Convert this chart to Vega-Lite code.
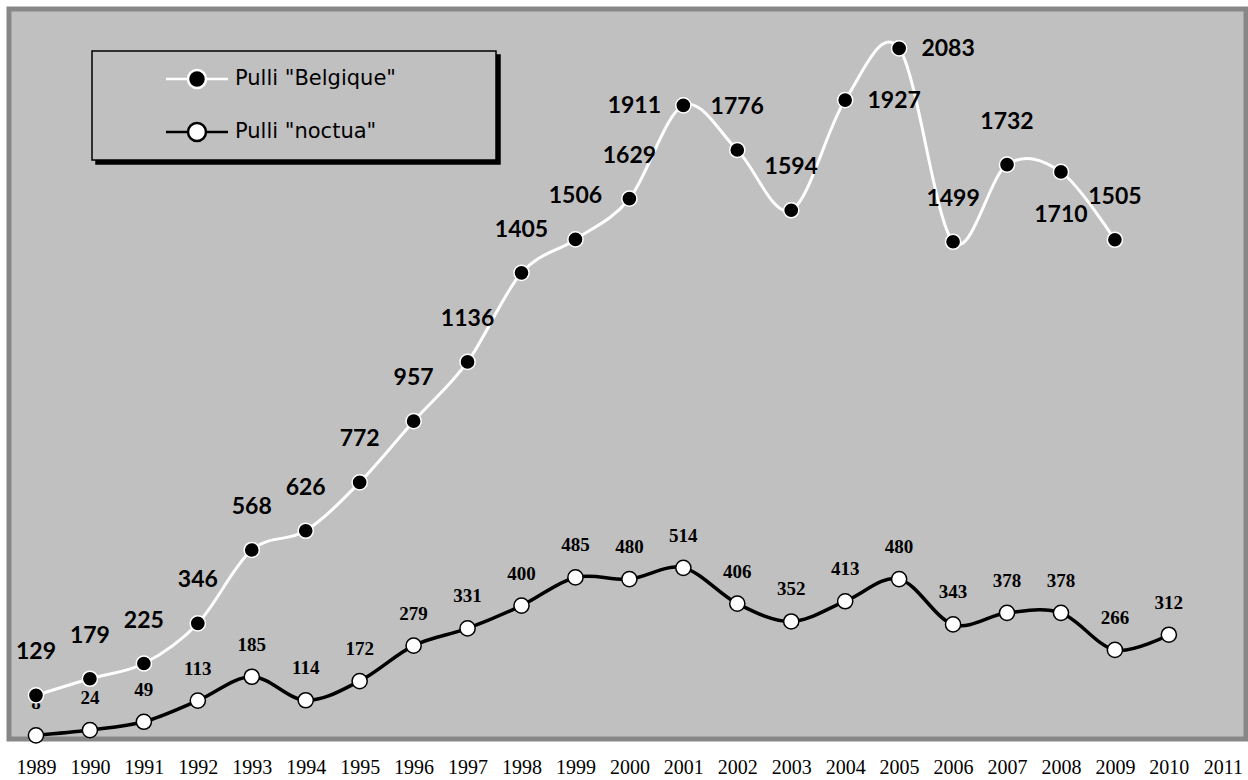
{
  "$schema": "https://vega.github.io/schema/vega-lite/v6.json",
  "width": 1237,
  "height": 730,
  "autosize": {"type": "none"},
  "padding": {"left": 9, "top": 9, "right": 2, "bottom": 41},
  "background": "white",
  "config": {
    "view": {"fill": "#C0C0C0", "stroke": "#878787", "strokeWidth": 5}
  },
  "data": {
    "values": [
      {"year": 1989, "series": "Pulli \"Belgique\"", "value": 129},
      {"year": 1990, "series": "Pulli \"Belgique\"", "value": 179},
      {"year": 1991, "series": "Pulli \"Belgique\"", "value": 225},
      {"year": 1992, "series": "Pulli \"Belgique\"", "value": 346},
      {"year": 1993, "series": "Pulli \"Belgique\"", "value": 568},
      {"year": 1994, "series": "Pulli \"Belgique\"", "value": 626},
      {"year": 1995, "series": "Pulli \"Belgique\"", "value": 772},
      {"year": 1996, "series": "Pulli \"Belgique\"", "value": 957},
      {"year": 1997, "series": "Pulli \"Belgique\"", "value": 1136},
      {"year": 1998, "series": "Pulli \"Belgique\"", "value": 1405},
      {"year": 1999, "series": "Pulli \"Belgique\"", "value": 1506},
      {"year": 2000, "series": "Pulli \"Belgique\"", "value": 1629},
      {"year": 2001, "series": "Pulli \"Belgique\"", "value": 1911},
      {"year": 2002, "series": "Pulli \"Belgique\"", "value": 1776},
      {"year": 2003, "series": "Pulli \"Belgique\"", "value": 1594},
      {"year": 2004, "series": "Pulli \"Belgique\"", "value": 1927},
      {"year": 2005, "series": "Pulli \"Belgique\"", "value": 2083},
      {"year": 2006, "series": "Pulli \"Belgique\"", "value": 1499},
      {"year": 2007, "series": "Pulli \"Belgique\"", "value": 1732},
      {"year": 2008, "series": "Pulli \"Belgique\"", "value": 1710},
      {"year": 2009, "series": "Pulli \"Belgique\"", "value": 1505},
      {"year": 1989, "series": "Pulli \"noctua\"", "value": 8},
      {"year": 1990, "series": "Pulli \"noctua\"", "value": 24},
      {"year": 1991, "series": "Pulli \"noctua\"", "value": 49},
      {"year": 1992, "series": "Pulli \"noctua\"", "value": 113},
      {"year": 1993, "series": "Pulli \"noctua\"", "value": 185},
      {"year": 1994, "series": "Pulli \"noctua\"", "value": 114},
      {"year": 1995, "series": "Pulli \"noctua\"", "value": 172},
      {"year": 1996, "series": "Pulli \"noctua\"", "value": 279},
      {"year": 1997, "series": "Pulli \"noctua\"", "value": 331},
      {"year": 1998, "series": "Pulli \"noctua\"", "value": 400},
      {"year": 1999, "series": "Pulli \"noctua\"", "value": 485},
      {"year": 2000, "series": "Pulli \"noctua\"", "value": 480},
      {"year": 2001, "series": "Pulli \"noctua\"", "value": 514},
      {"year": 2002, "series": "Pulli \"noctua\"", "value": 406},
      {"year": 2003, "series": "Pulli \"noctua\"", "value": 352},
      {"year": 2004, "series": "Pulli \"noctua\"", "value": 413},
      {"year": 2005, "series": "Pulli \"noctua\"", "value": 480},
      {"year": 2006, "series": "Pulli \"noctua\"", "value": 343},
      {"year": 2007, "series": "Pulli \"noctua\"", "value": 378},
      {"year": 2008, "series": "Pulli \"noctua\"", "value": 378},
      {"year": 2009, "series": "Pulli \"noctua\"", "value": 266},
      {"year": 2010, "series": "Pulli \"noctua\"", "value": 312}
    ]
  },
  "encoding": {
    "x": {
      "field": "year", "type": "quantitative",
      "scale": {"domain": [1988.5, 2011.43], "nice": false, "zero": false},
      "axis": {
        "title": null, "domain": false, "ticks": false, "tickSize": 0, "grid": false,
        "values": [1989,1990,1991,1992,1993,1994,1995,1996,1997,1998,1999,2000,2001,2002,2003,2004,2005,2006,2007,2008,2009,2010,2011],
        "format": "d", "labelFont": "Liberation Serif", "labelFontSize": 20, "labelColor": "black",
        "labelPadding": 18, "labelOverlap": false, "labelFlush": false
      }
    },
    "y": {
      "field": "value", "type": "quantitative",
      "scale": {"domain": [-3, 2202], "nice": false, "zero": false},
      "axis": null
    }
  },
  "layer": [
    {
      "transform": [{"filter": {"field": "series", "equal": "Pulli \"noctua\""}}],
      "mark": {"type": "line", "interpolate": "cardinal", "strokeWidth": 3.5},
      "encoding": {
        "stroke": {"field": "series", "type": "nominal",
          "scale": {"domain": ["Pulli \"Belgique\"", "Pulli \"noctua\""], "range": ["white", "black"]},
          "legend": {"title": " ", "titleOrient": "right", "titlePadding": 85, "titleFontSize": 1,
            "orient": "none", "legendX": 83, "legendY": 42, "zindex": 2,
            "padding": 15, "strokeColor": "black", "fillColor": "#C0C0C0",
            "symbolType": "M -3.1 0 L -0.9 0 M 0.9 0 L 3.1 0 M 0.9 0 A 0.9 0.9 0 1 1 -0.9 0 A 0.9 0.9 0 1 1 0.9 0 Z",
            "symbolSize": 400, "symbolStrokeWidth": 2.5, "symbolOffset": 78.5,
            "labelOffset": 26.5, "labelFont": "DejaVu Sans", "labelFontSize": 21, "labelColor": "black", "labelLimit": 0,
            "clipHeight": 26, "rowPadding": 27,
            "encode": {"legend": {"update": {"strokeWidth": {"value": 1.5}}}}}
        }
      }
    },
    {
      "transform": [{"filter": {"field": "series", "equal": "Pulli \"noctua\""}}],
      "mark": {"type": "point", "shape": "circle", "filled": true, "size": 230, "strokeWidth": 1.5},
      "encoding": {
        "fill": {"field": "series", "type": "nominal",
          "scale": {"domain": ["Pulli \"Belgique\"", "Pulli \"noctua\""], "range": ["black", "white"]},
          "legend": {"title": " ", "titleOrient": "right", "titlePadding": 85, "titleFontSize": 1,
            "orient": "none", "legendX": 83, "legendY": 42, "zindex": 2,
            "padding": 15, "strokeColor": "black", "fillColor": "#C0C0C0",
            "symbolType": "M -3.1 0 L -0.9 0 M 0.9 0 L 3.1 0 M 0.9 0 A 0.9 0.9 0 1 1 -0.9 0 A 0.9 0.9 0 1 1 0.9 0 Z",
            "symbolSize": 400, "symbolStrokeWidth": 2.5, "symbolOffset": 78.5,
            "labelOffset": 26.5, "labelFont": "DejaVu Sans", "labelFontSize": 21, "labelColor": "black", "labelLimit": 0,
            "clipHeight": 26, "rowPadding": 27,
            "encode": {"legend": {"update": {"strokeWidth": {"value": 1.5}}}}}
        },
        "stroke": {"field": "series", "type": "nominal",
          "scale": {"domain": ["Pulli \"Belgique\"", "Pulli \"noctua\""], "range": ["white", "black"]}
        },
        "opacity": {"field": "series", "type": "nominal",
          "scale": {"range": [1, 1]},
          "legend": {"title": " ", "titleOrient": "right", "titlePadding": 246, "titleFontSize": 1,
            "orient": "none", "legendX": 87, "legendY": 46, "zindex": 1,
            "padding": 15, "strokeColor": "black", "fillColor": "black",
            "symbolType": "M -3.1 0 L -0.9 0 M 0.9 0 L 3.1 0 M 0.9 0 A 0.9 0.9 0 1 1 -0.9 0 A 0.9 0.9 0 1 1 0.9 0 Z",
            "symbolSize": 400, "symbolStrokeWidth": 2.5, "symbolOffset": 78.5,
            "symbolFillColor": "black", "symbolStrokeColor": "black",
            "labelExpr": "''",
            "labelOffset": 26.5, "labelFont": "DejaVu Sans", "labelFontSize": 21, "labelColor": "black", "labelLimit": 0,
            "clipHeight": 26, "rowPadding": 27,
            "encode": {"legend": {"update": {"strokeWidth": {"value": 1.5}}}}}
        }
      }
    },
    {
      "transform": [{"filter": {"field": "series", "equal": "Pulli \"noctua\""}}],
      "mark": {"type": "text", "align": "center", "baseline": "middle", "dy": -32,
        "font": "Liberation Serif", "fontWeight": "bold", "fontSize": 19, "color": "black"},
      "encoding": {"text": {"field": "value", "type": "quantitative", "format": "d"}}
    },
    {
      "transform": [{"filter": {"field": "series", "equal": "Pulli \"Belgique\""}}],
      "mark": {"type": "line", "interpolate": "cardinal", "strokeWidth": 3},
      "encoding": {
        "stroke": {"field": "series", "type": "nominal",
          "scale": {"domain": ["Pulli \"Belgique\"", "Pulli \"noctua\""], "range": ["white", "black"]}}
      }
    },
    {
      "transform": [{"filter": {"field": "series", "equal": "Pulli \"Belgique\""}}],
      "mark": {"type": "point", "shape": "circle", "filled": true, "size": 230, "strokeWidth": 1.5},
      "encoding": {
        "fill": {"field": "series", "type": "nominal",
          "scale": {"domain": ["Pulli \"Belgique\"", "Pulli \"noctua\""], "range": ["black", "white"]}},
        "stroke": {"field": "series", "type": "nominal",
          "scale": {"domain": ["Pulli \"Belgique\"", "Pulli \"noctua\""], "range": ["white", "black"]}},
        "opacity": {"field": "series", "type": "nominal", "scale": {"range": [1, 1]}}
      }
    },
    {
      "transform": [
        {"filter": {"field": "series", "equal": "Pulli \"Belgique\""}},
        {"filter": {"not": {"field": "year", "oneOf": [2001, 2004, 2005, 2008]}}}
      ],
      "mark": {"type": "text", "align": "center", "baseline": "middle", "dy": -43,
        "font": "Lato", "fontWeight": "bold", "fontSize": 23, "color": "black"},
      "encoding": {"text": {"field": "value", "type": "quantitative", "format": "d"}}
    },
    {
      "transform": [
        {"filter": {"field": "series", "equal": "Pulli \"Belgique\""}},
        {"filter": {"field": "year", "oneOf": [2001]}}
      ],
      "mark": {"type": "text", "align": "center", "baseline": "middle", "dx": -49, "dy": 1,
        "font": "Lato", "fontWeight": "bold", "fontSize": 23, "color": "black"},
      "encoding": {"text": {"field": "value", "type": "quantitative", "format": "d"}}
    },
    {
      "transform": [
        {"filter": {"field": "series", "equal": "Pulli \"Belgique\""}},
        {"filter": {"field": "year", "oneOf": [2004, 2005]}}
      ],
      "mark": {"type": "text", "align": "center", "baseline": "middle", "dx": 49, "dy": 1,
        "font": "Lato", "fontWeight": "bold", "fontSize": 23, "color": "black"},
      "encoding": {"text": {"field": "value", "type": "quantitative", "format": "d"}}
    },
    {
      "transform": [
        {"filter": {"field": "series", "equal": "Pulli \"Belgique\""}},
        {"filter": {"field": "year", "oneOf": [2008]}}
      ],
      "mark": {"type": "text", "align": "center", "baseline": "middle", "dy": 43,
        "font": "Lato", "fontWeight": "bold", "fontSize": 23, "color": "black"},
      "encoding": {"text": {"field": "value", "type": "quantitative", "format": "d"}}
    }
  ]
}
